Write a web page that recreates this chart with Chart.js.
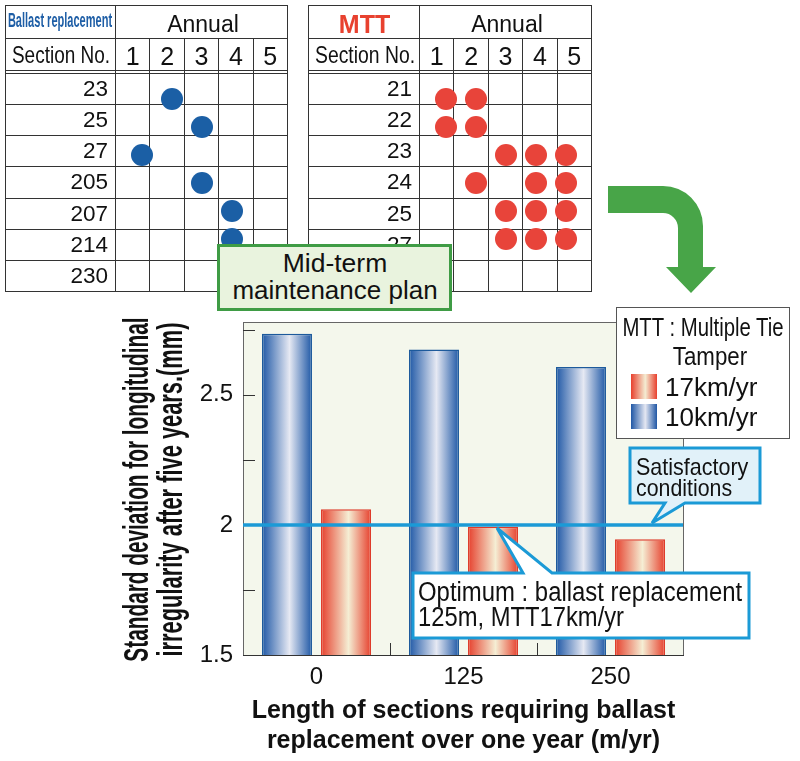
<!DOCTYPE html>
<html><head><meta charset="utf-8">
<script src="https://cdn.jsdelivr.net/npm/chart.js@4/dist/chart.umd.min.js"></script>
<style>
html,body{margin:0;padding:0;background:#fff;}
body{width:800px;height:761px;overflow:hidden;position:relative;font-family:"Liberation Sans",Arial,sans-serif;color:#111;}
#layer{position:absolute;left:0;top:0;width:800px;height:761px;}
.tx{position:absolute;white-space:pre;}
</style></head>
<body>
<canvas id="main" width="800" height="761" style="position:absolute;left:0;top:0;width:800px;height:761px;"></canvas>
<div id="layer"></div>
<script>
// ---------------- data ----------------
const categories = ['0', '125', '250'];           // length requiring ballast replacement (m/yr)
const mtt10 = [2.735, 2.674, 2.607];               // MTT 10km/yr
const mtt17 = [2.06, 1.993, 1.945];                // MTT 17km/yr
const yMin = 1.5, yMax = 2.78, yStep = 0.25;
const satisfactoryLevel = 2.0;
const years = ['1', '2', '3', '4', '5'];
const ballastSections = ['23', '25', '27', '205', '207', '214', '230'];
const ballastYears = [[2], [3], [1], [3], [4], [4], []];
const mttSections = ['21', '22', '23', '24', '25', '27', ''];
const mttYears = [[1, 2], [1, 2], [3, 4, 5], [2, 4, 5], [3, 4, 5], [3, 4, 5], []];
const yTitle = ['Standard deviation for longitudinal', 'irregularity after five years.(mm)'];
const xTitle = ['Length of sections requiring ballast', 'replacement over one year (m/yr)'];

// ---------------- helpers ----------------
const SANS = '"Liberation Sans", Arial, sans-serif';
const NARROW = '"Liberation Sans Narrow", "Arial Narrow", "Liberation Sans", sans-serif';
const layer = document.getElementById('layer');
function box(x, y, w, h, style) {
  const d = document.createElement('div');
  d.style.cssText = `position:absolute;left:${x}px;top:${y}px;width:${w}px;height:${h}px;box-sizing:border-box;` + (style || '');
  layer.appendChild(d); return d;
}
function hline(x1, x2, y, c) { box(x1, y, x2 - x1, 1, `background:${c}`); }
function vline(x, y1, y2, c) { box(x, y1, 1, y2 - y1, `background:${c}`); }
function mk(str, o) {
  const d = document.createElement('div');
  d.className = 'tx';
  d.textContent = str;
  const size = o.size || 22;
  d.style.fontSize = size + 'px';
  d.style.lineHeight = size + 'px';
  d.style.fontFamily = o.family || SANS;
  d.style.fontWeight = o.weight || 'normal';
  d.style.color = o.color || '#111';
  layer.appendChild(d);
  return d;
}
function text(str, o) {
  const d = mk(str, o);
  const size = o.size || 22;
  d.style.left = o.x + 'px';
  d.style.top = (o.base - 0.8465 * size) + 'px';
  const w = d.offsetWidth;
  const s = o.fit ? o.fit / w : 1;
  const align = o.align || 'left';
  if (align === 'center') { d.style.transformOrigin = '50% 50%'; d.style.transform = `translateX(-50%) scaleX(${s})`; }
  else if (align === 'right') { d.style.transformOrigin = '100% 50%'; d.style.transform = `translateX(-100%) scaleX(${s})`; }
  else { d.style.transformOrigin = '0 50%'; d.style.transform = `scaleX(${s})`; }
  return d;
}
// vertical (bottom-to-top) text, centred at (cx, cy) where cx is the line-box centre
function vtext(str, o) {
  const d = mk(str, o);
  const w = d.offsetWidth;
  d.style.left = (o.cx - w / 2) + 'px';
  d.style.top = (o.cy - o.size / 2) + 'px';
  d.style.transformOrigin = '50% 50%';
  d.style.transform = `rotate(-90deg) scaleX(${o.fit / w})`;
  return d;
}

// ---------------- tables ----------------
function buildTable(o) {
  const LC = '#333';
  const {x0, x1, x6, yTop, yH1, yH2, yD, yBot, sections, cells, color} = o;
  const colW = (x6 - x1) / 5, rowH = (yBot - yD) / sections.length;
  [yTop, yH1, yH2, yD].forEach(y => hline(x0, x6 + 1, y, LC));
  for (let r = 1; r <= sections.length; r++) hline(x0, x6 + 1, Math.round(yD + r * rowH), LC);
  vline(x0, yTop, yBot + 1, LC); vline(x1, yTop, yBot + 1, LC); vline(x6, yTop, yBot + 1, LC);
  for (let c = 1; c < 5; c++) vline(Math.round(x1 + c * colW), yH1, yBot + 1, LC);
  o.head(((x0 + x1) / 2));
  text('Annual', {x: (x1 + x6) / 2 + 2, base: 32, size: 23, align: 'center'});
  text('Section No.', {x: (x0 + x1) / 2 + 1, base: 63.5, size: 24, family: NARROW, align: 'center', fit: o.secW});
  years.forEach((y, i) => text(y, {x: x1 + (i + 0.5) * colW + 0.5, base: 65, size: 25, align: 'center'}));
  sections.forEach((s, r) => text(s, {x: x1 - 7, base: yD + (r + 0.5) * rowH + 8.5, size: 22.5, align: 'right'}));
  const cv = document.createElement('canvas');
  cv.width = x6 - x1; cv.height = yBot - yD;
  cv.style.cssText = `position:absolute;left:${x1 + 0.5}px;top:${yD + 0.5}px;width:${x6 - x1}px;height:${yBot - yD}px;`;
  layer.appendChild(cv);
  const pts = [];
  cells.forEach((ys, r) => ys.forEach(y => pts.push({x: String(y), y: sections[r]})));
  new Chart(cv, {
    type: 'scatter',
    data: {datasets: [{data: pts, pointRadius: 11, pointBackgroundColor: color, backgroundColor: color, borderWidth: 0, pointBorderWidth: 0}]},
    options: {
      responsive: false, animation: false, devicePixelRatio: 1, events: [],
      layout: {padding: 0},
      plugins: {legend: {display: false}, tooltip: {enabled: false}},
      scales: {
        x: {type: 'category', labels: years, offset: true, display: false},
        y: {type: 'category', labels: sections, offset: true, display: false}
      }
    }
  });
}

buildTable({x0: 5, x1: 115, x6: 287, yTop: 5, yH1: 38, yH2: 70, yD: 73, yBot: 291,
  sections: ballastSections, cells: ballastYears, color: '#1b5fa5', secW: 98,
  head: cx => text('Ballast replacement', {x: cx, base: 27, size: 21, family: NARROW, weight: 'bold', color: '#1e5ea6', align: 'center', fit: 104})});
buildTable({x0: 308, x1: 419, x6: 591, yTop: 5, yH1: 38, yH2: 70, yD: 73, yBot: 291,
  sections: mttSections, cells: mttYears, color: '#e8443a', secW: 100,
  head: cx => text('MTT', {x: cx + 1, base: 33, size: 25, weight: 'bold', color: '#e8412f', align: 'center'})});

// green box
box(217, 244, 235, 67, 'background:#e9f3de;border:3px solid #3f9c45;');
text('Mid-term', {x: 335, base: 272, size: 26.5, align: 'center'});
text('maintenance plan', {x: 335, base: 299, size: 26.5, align: 'center', fit: 205});

// svg decorations: arrow + callouts
const svgNS = 'http://www.w3.org/2000/svg';
const svg = document.createElementNS(svgNS, 'svg');
svg.setAttribute('width', '800'); svg.setAttribute('height', '761');
svg.style.cssText = 'position:absolute;left:0;top:0;';
svg.innerHTML = `
<path d="M608,186 L663,186 A40,40 0 0 1 703,226 L703,267 L716,267 L691,293 L666,267 L678,267 L678,228 A15,15 0 0 0 663,213 L608,213 Z" fill="#48a548"/>
<path d="M630,448 H760 V503 H685 L652,523 L665,503 H630 Z" fill="#e1f1f9" stroke="#1b9ad6" stroke-width="3" stroke-linejoin="miter"/>
<path d="M413,573 H523 L497,528 L552,573 H749 V638 H413 Z" fill="#ffffff" stroke="#1b9ad6" stroke-width="3" stroke-linejoin="miter"/>`;
layer.appendChild(svg);
text('Satisfactory', {x: 636, base: 475, size: 24, fit: 112});
text('conditions', {x: 636, base: 496, size: 24, fit: 96});
text('Optimum : ballast replacement', {x: 418, base: 602, size: 27, fit: 324});
text('125m, MTT17km/yr', {x: 418, base: 627, size: 27, fit: 206});

// legend
box(616, 307, 174, 132, 'background:#fff;border:1px solid #555;');
text('MTT : Multiple Tie', {x: 702.5, base: 336.5, size: 25, family: NARROW, align: 'center', fit: 161});
text('Tamper', {x: 710, base: 365, size: 25, family: NARROW, align: 'center', fit: 74});
box(631, 374, 26, 25, 'background:linear-gradient(to right,#e8402e,#f4ecd2 55%,#e8402e);');
box(631, 404, 26, 25, 'background:linear-gradient(to right,#2057a5,#e4e7f2 55%,#2057a5);');
text('17km/yr', {x: 665, base: 396, size: 26});
text('10km/yr', {x: 665, base: 426, size: 26});

// y-axis title (tall condensed bold, as in the original)
vtext(yTitle[0], {cx: 135, cy: 489, size: 35, weight: 'bold', fit: 344});
vtext(yTitle[1], {cx: 169, cy: 489, size: 35, weight: 'bold', fit: 334});

// ---------------- main chart ----------------
const GRAD = {
  blue: [[0, '#1f58a6'], [0.55, '#e6e9f3'], [1, '#1f58a6']],
  red: [[0, '#e6402d'], [0.55, '#f5eed4'], [1, '#e6402d']]
};
const deco = {
  id: 'deco',
  beforeDraw(chart) {
    const {ctx, chartArea: a} = chart;
    ctx.save(); ctx.fillStyle = '#f4f7ec';
    ctx.fillRect(a.left, a.top, a.right - a.left, a.bottom - a.top); ctx.restore();
  },
  beforeDatasetsDraw(chart) {
    const ctx = chart.ctx;
    chart.data.datasets.forEach((ds, di) => {
      chart.getDatasetMeta(di).data.forEach(el => {
        const {x, width} = el.getProps(['x', 'width'], true);
        const g = ctx.createLinearGradient(x - width / 2, 0, x + width / 2, 0);
        GRAD[ds.gradKey].forEach(([o, c]) => g.addColorStop(o, c));
        el.options = Object.assign({}, el.options, {backgroundColor: g});
      });
    });
  },
  afterDatasetsDraw(chart) {
    const {ctx, chartArea: a, scales: {x, y}} = chart;
    ctx.save();
    ctx.strokeStyle = '#666'; ctx.lineWidth = 1;
    ctx.strokeRect(a.left + 0.5, a.top + 0.5, a.right - a.left - 1, a.bottom - a.top);
    ctx.strokeStyle = '#333';
    ctx.beginPath(); ctx.moveTo(a.left, a.bottom + 0.5); ctx.lineTo(a.right, a.bottom + 0.5); ctx.stroke();
    ctx.beginPath();
    y.ticks.forEach(t => { const py = Math.round(y.getPixelForValue(t.value)) + 0.5; ctx.moveTo(a.left, py); ctx.lineTo(a.left + 12, py); });
    for (let i = 0; i < categories.length - 1; i++) {
      const px = Math.round((x.getPixelForValue(i) + x.getPixelForValue(i + 1)) / 2) + 0.5;
      ctx.moveTo(px, a.bottom); ctx.lineTo(px, a.bottom - 12);
    }
    ctx.stroke();
    const ly = y.getPixelForValue(satisfactoryLevel);
    ctx.strokeStyle = '#1b9ad6'; ctx.lineWidth = 3.5;
    ctx.beginPath(); ctx.moveTo(a.left, ly); ctx.lineTo(a.right - 1, ly); ctx.stroke();
    ctx.restore();
  }
};

Chart.defaults.color = '#111';
new Chart(document.getElementById('main'), {
  type: 'bar',
  data: {
    labels: categories,
    datasets: [
      {label: '10km/yr', data: mtt10, gradKey: 'blue', backgroundColor: '#6f8fc4', borderColor: '#1d5a9c', borderWidth: 1.5},
      {label: '17km/yr', data: mtt17, gradKey: 'red', backgroundColor: '#ee9a7f', borderColor: '#de3b2a', borderWidth: 1.5}
    ]
  },
  options: {
    responsive: false, animation: false, devicePixelRatio: 1, events: [],
    layout: {padding: {left: 0, top: 322, right: 116, bottom: 0}},
    datasets: {bar: {categoryPercentage: 0.803, barPercentage: 0.847}},
    plugins: {legend: {display: false}, tooltip: {enabled: false}},
    scales: {
      x: {
        grid: {display: false, drawTicks: false}, border: {display: false},
        ticks: {font: {family: SANS, size: 24}, padding: 8, color: '#111'},
        title: {display: true, text: xTitle, color: '#111',
          font: {family: NARROW, weight: 'bold', size: 25, lineHeight: 1.2}, padding: {top: 0, bottom: 5}},
        afterFit(s) { s.height = 106; }
      },
      y: {
        min: yMin, max: yMax,
        grid: {display: false, drawTicks: false}, border: {display: false},
        ticks: {stepSize: yStep, includeBounds: false, font: {family: SANS, size: 24}, padding: 10, color: '#111',
          callback: v => Math.abs(v * 2 - Math.round(v * 2)) < 1e-9 ? String(+v.toFixed(2)) : ''},
        title: {display: false, text: yTitle},
        afterFit(s) { s.width = 243; }
      }
    }
  },
  plugins: [deco]
});
</script>
</body></html>
